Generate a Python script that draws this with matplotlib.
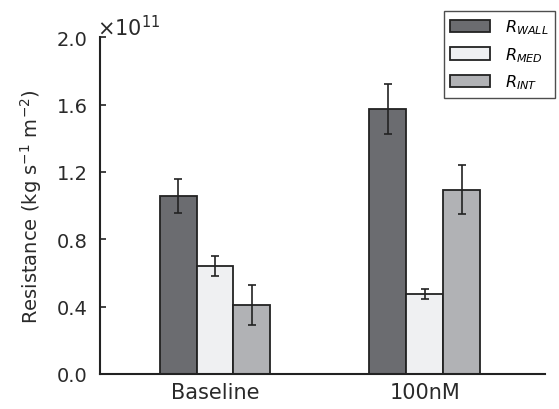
import matplotlib
matplotlib.use("Agg")
import matplotlib.pyplot as plt
import numpy as np

groups = ["Baseline", "100nM"]
series = [r"$R_{WALL}$", r"$R_{MED}$", r"$R_{INT}$"]
values = {
    "WALL": [1.056, 1.573],
    "MED": [0.639, 0.475],
    "INT": [0.410, 1.094],
}
errors = {
    "WALL": [0.100, 0.147],
    "MED": [0.060, 0.027],
    "INT": [0.120, 0.147],
}
colors = ["#6b6c70", "#eff0f2", "#b1b2b5"]
yticks = [0.0, 0.4, 0.8, 1.2, 1.6, 2.0]

plt.rcParams["font.family"] = ["DejaVu Sans"]
plt.rcParams["mathtext.fontset"] = "dejavusans"

fig = plt.figure(figsize=(5.59, 4.10), dpi=100)
ax = fig.add_axes([0.179, 0.0854, 0.796, 0.8216])

x = np.arange(len(groups))
width = 0.176
keys = ["WALL", "MED", "INT"]
for i, k in enumerate(keys):
    ax.bar(x + (i - 1) * width, values[k], width, color=colors[i],
           edgecolor="#222222", linewidth=1.3, label=series[i],
           yerr=errors[k], error_kw=dict(ecolor="#222222", elinewidth=1.2,
                                         capsize=2.6, capthick=1.2))

ax.set_xlim(-0.548, 1.574)
ax.set_ylim(0, 2.0)
ax.set_yticks(yticks)
ax.set_yticklabels([f"{t:.1f}" for t in yticks], fontsize=14, color="#2a2a2a")
ax.set_xticks(x)
ax.set_xticklabels(groups, fontsize=15, color="#2a2a2a")
ax.tick_params(axis="x", length=0, pad=6)
ax.tick_params(axis="y", direction="in", length=4, width=1.2, color="#222222", pad=9)
ax.spines["top"].set_visible(False)
ax.spines["right"].set_visible(False)
ax.spines["left"].set_linewidth(1.5)
ax.spines["bottom"].set_linewidth(1.5)
ax.spines["left"].set_color("#222222")
ax.spines["bottom"].set_color("#222222")

ax.set_ylabel(r"Resistance (kg s$^{-1}$ m$^{-2}$)", fontsize=14, color="#2a2a2a", labelpad=9)
ax.text(-0.008, 0.995, "×10$^{11}$", transform=ax.transAxes, fontsize=15,
        color="#2a2a2a", ha="left", va="bottom")

leg = ax.legend(loc="upper right", bbox_to_anchor=(1.022, 1.077), fontsize=11.5,
                frameon=True, fancybox=False, edgecolor="#222222",
                handlelength=2.5, handleheight=0.8, borderpad=0.4,
                labelspacing=0.55, handletextpad=0.9, borderaxespad=0)
leg.get_frame().set_linewidth(1.0)

fig.savefig("out.png", dpi=100)
